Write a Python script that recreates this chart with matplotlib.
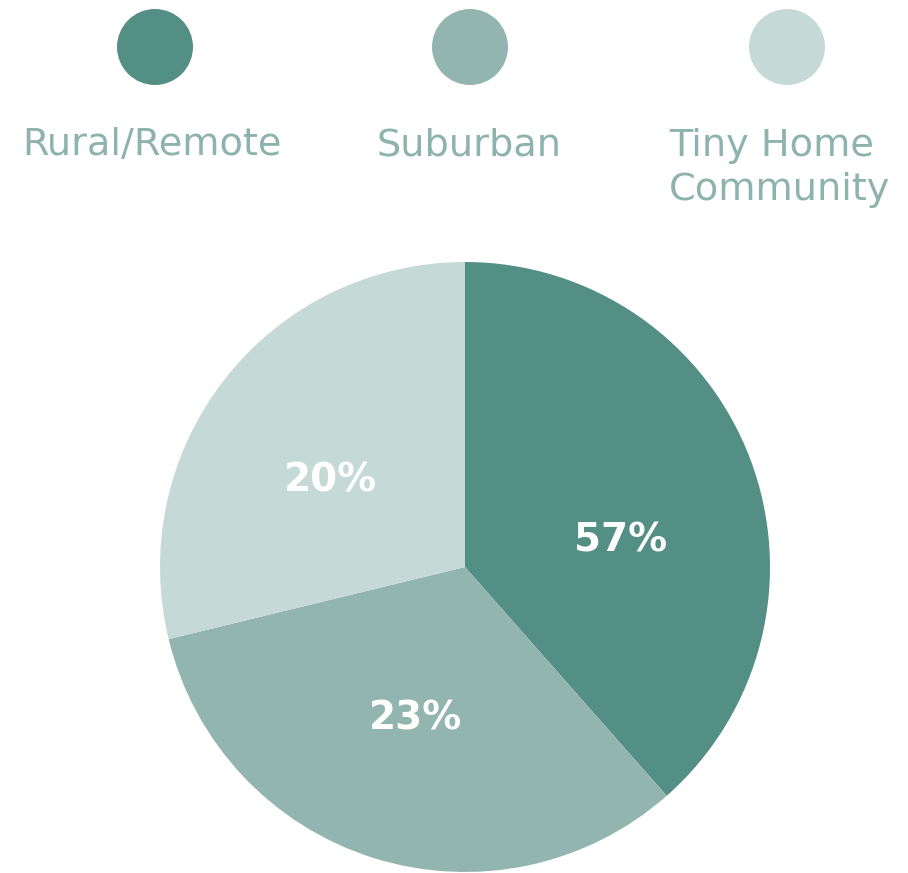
import matplotlib.pyplot as plt
from matplotlib.patches import Circle

# slice sizes as drawn (angles), labels as printed
categories = ["Rural/Remote", "Suburban", "Tiny Home\nCommunity"]
sizes = [38.5, 32.7, 28.8]
pct_labels = ["57%", "23%", "20%"]
colors = ["#548f86", "#92b5af", "#c5dad7"]
text_color = "#8db3ac"

W, H = 908, 873
fig = plt.figure(figsize=(W / 100, H / 100), dpi=100)
ax = fig.add_axes([0, 0, 1, 1])

# pie
ax.pie(sizes, colors=colors, startangle=90, counterclock=False,
       center=(465, H - 567), radius=305, frame=True,
       wedgeprops=dict(linewidth=0))
ax.set_xlim(0, W)
ax.set_ylim(0, H)
ax.axis("off")

label_pos = [(621, 540), (416, 718), (330, 481)]
for (x, y), t in zip(label_pos, pct_labels):
    ax.text(x, H - y, t, color="white", fontsize=28, fontweight="bold",
            family="DejaVu Sans", ha="center", va="center")

# legend: dots + names
dot_x = [155, 470, 787]
for x, c in zip(dot_x, colors):
    ax.add_patch(Circle((x, H - 47), 38, color=c, lw=0))

ax.text(152, H - 145, categories[0], color=text_color, fontsize=27.5,
        family="DejaVu Sans", ha="center", va="center")
ax.text(469, H - 145, categories[1], color=text_color, fontsize=27.5,
        family="DejaVu Sans", ha="center", va="center")
ax.text(669, H - 168, categories[2], color=text_color, fontsize=27.5,
        family="DejaVu Sans", ha="left", va="center",
        linespacing=1.32)

fig.savefig("out.png", dpi=100, facecolor="white")
